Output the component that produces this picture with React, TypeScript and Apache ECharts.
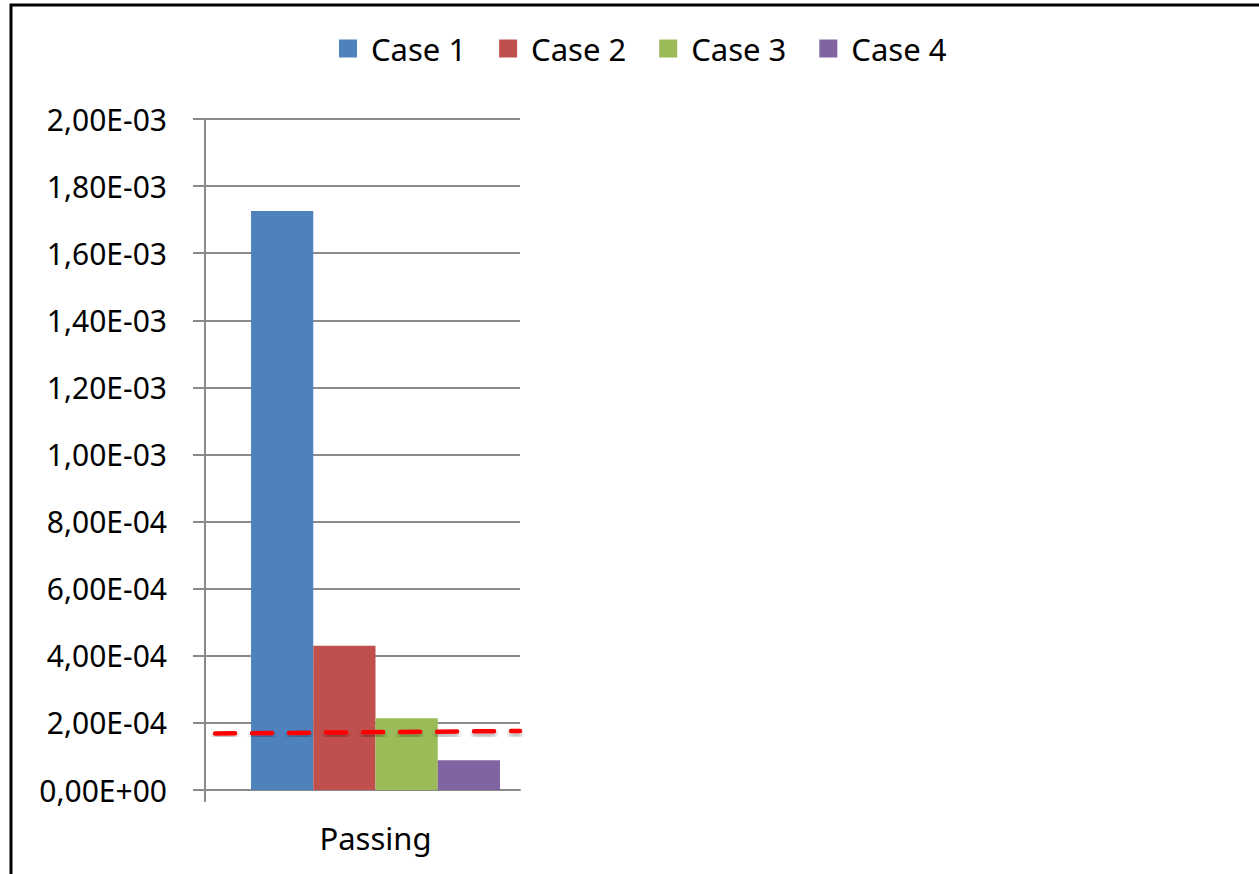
import React, { useEffect, useRef } from "react";
import * as echarts from "echarts";

const categories = ["Passing"];
const seriesNames = ["Case 1", "Case 2", "Case 3", "Case 4"];
const seriesValues = [[1.726e-3], [4.3e-4], [2.14e-4], [8.9e-5]];
const seriesColors = ["#4F81BD", "#C0504D", "#9BBB59", "#8064A2"];
const thresholdLine = [
  [0.032, 1.684e-4],
  [1, 1.759e-4],
];
const yMin = 0;
const yMax = 2e-3;
const yInterval = 2e-4;

const FONT = "'Noto Sans', 'Open Sans', sans-serif";

function fmtExp(v: number): string {
  const [m, e] = v.toExponential(2).split("e");
  const sign = e[0] === "-" ? "-" : "+";
  const digits = e.replace(/^[+-]/, "").padStart(2, "0");
  return m.replace(".", ",") + "E" + sign + digits;
}

export default function App() {
  const ref = useRef<HTMLDivElement>(null);
  useEffect(() => {
    if (!ref.current) return;
    const chart = echarts.init(ref.current, undefined, { renderer: "svg" });
    const gridTop = 119;
    const gridHeight = 671;
    const axisGray = "#8a8a8a";
    const option: any = {
      animation: false,
      backgroundColor: "#fff",
      textStyle: { fontFamily: FONT },
      legend: {
        data: seriesNames,
        left: 334,
        top: 28,
        itemWidth: 18,
        itemHeight: 18,
        itemGap: 33,
        icon: "rect",
        textStyle: { fontSize: 31, color: "#000", fontFamily: FONT, padding: [0, 0, 0, 9] },
      },
      graphic: [
        {
          type: "rect",
          x: 11,
          y: 5,
          shape: { width: 1400, height: 1000 },
          style: { fill: "none", stroke: "#000", lineWidth: 3 },
          silent: true,
        },
      ],
      grid: [
        { left: 205, top: gridTop, width: 315, height: gridHeight },
        { left: 205, top: gridTop, width: 341, height: gridHeight },
      ],
      xAxis: [
        {
          type: "value",
          gridIndex: 0,
          min: 0,
          max: 1,
          axisLine: { show: true, lineStyle: { color: axisGray, width: 2 } },
          axisTick: { show: true, length: 12, customValues: [0], lineStyle: { color: axisGray, width: 2 } },
          axisLabel: { show: false },
          splitLine: { show: false },
        },
        {
          type: "category",
          gridIndex: 1,
          data: categories,
          axisLine: { show: false },
          axisTick: { show: false },
          axisLabel: { show: true, fontSize: 31, color: "#000", margin: 32, fontFamily: FONT },
        },
      ],
      yAxis: [
        {
          type: "value",
          gridIndex: 0,
          min: yMin,
          max: yMax,
          interval: yInterval,
          axisLine: { show: true, lineStyle: { color: axisGray, width: 2 } },
          axisTick: { show: true, length: 12, lineStyle: { color: axisGray, width: 2 } },
          axisLabel: {
            fontSize: 30,
            color: "#000",
            margin: 38,
            fontFamily: FONT,
            formatter: (v: number) => fmtExp(v),
          },
          splitLine: { show: true, lineStyle: { color: axisGray, width: 2 } },
        },
        {
          type: "value",
          gridIndex: 1,
          min: yMin,
          max: yMax,
          interval: yInterval,
          show: false,
          splitLine: { show: false },
        },
      ],
      series: [
        ...seriesNames.map((name, i) => ({
          name,
          type: "bar",
          xAxisIndex: 1,
          yAxisIndex: 1,
          data: seriesValues[i],
          barGap: "0%",
          barCategoryGap: "27%",
          itemStyle: { color: seriesColors[i] },
          z: 3,
        })),
        {
          type: "line",
          xAxisIndex: 0,
          yAxisIndex: 0,
          data: thresholdLine,
          symbol: "none",
          z: 10,
          lineStyle: {
            color: "#FF0000",
            width: 4.5,
            type: [20, 17],
            cap: "round",
            shadowColor: "rgba(0,0,0,0.35)",
            shadowBlur: 4,
            shadowOffsetY: 3,
          },
        },
      ],
    };
    chart.setOption(option);
    return () => chart.dispose();
  }, []);
  return (
    <div
      ref={ref}
      style={{ position: "absolute", left: 0, top: 0, width: 1259, height: 874, background: "#fff" }}
    />
  );
}
